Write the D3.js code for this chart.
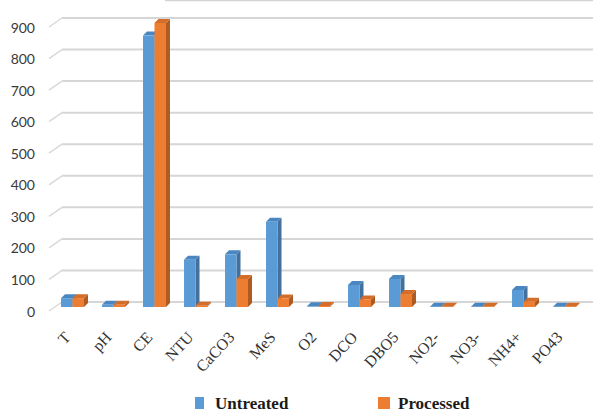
<!DOCTYPE html>
<html>
<head>
<meta charset="utf-8">
<script src="https://cdn.jsdelivr.net/npm/d3@7"></script>
<style>
  html, body { margin: 0; padding: 0; background: #fff; }
  svg { display: block; }
</style>
</head>
<body>
<svg id="chart" width="593" height="412"></svg>
<script>
// Water quality parameters, before and after treatment
const categories = ["T", "pH", "CE", "NTU", "CaCO3", "MeS", "O2", "DCO", "DBO5", "NO2-", "NO3-", "NH4+", "PO43"];
const seriesNames = ["Untreated", "Processed"];
const untreated = [28, 7, 860, 150, 167, 270, 2, 70, 89, 1, 1, 54, 1];
const processed = [28, 7, 900, 4, 89, 27, 3, 24, 41, 1, 1, 17, 1];
const yTicks = [0, 100, 200, 300, 400, 500, 600, 700, 800, 900];

const W = 593, H = 412;
const depth = 4;          // 3D extrusion of each column (px)
const wallShift = 5;      // back wall offset relative to column front base
const svg = d3.select("#chart");

svg.append("rect").attr("width", W).attr("height", H).attr("fill", "#fff");

// outer frame edge along the top
svg.append("line")
  .attr("x1", 165).attr("x2", W).attr("y1", 0.5).attr("y2", 0.5)
  .attr("stroke", "#d4d4d4").attr("stroke-width", 1.5);

const x = d3.scaleBand().domain(categories).range([52, 585])
  .paddingInner(0.44).paddingOuter(0.22);
const xs = d3.scaleBand().domain(seriesNames).range([0, x.bandwidth()]);
const y = d3.scaleLinear().domain([0, 900]).range([307, 23]);

const colors = {
  Untreated: { front: "#5B9BD5", side: "#41719C", top: "#4A86BF" },
  Processed: { front: "#ED7D31", side: "#AE5A21", top: "#D46D27" }
};

// gridlines on the back wall with the slanted floor edge at the left
const grid = svg.append("g");
yTicks.forEach(v => {
  const yb = y(v) - wallShift;
  grid.append("line")
    .attr("x1", 62).attr("x2", W).attr("y1", yb).attr("y2", yb)
    .attr("stroke", "#D6D6D6").attr("stroke-width", 2);
  grid.append("line")
    .attr("x1", 49).attr("y1", yb + 9).attr("x2", 62).attr("y2", yb)
    .attr("stroke", "#D9D9D9").attr("stroke-width", 1.5);
});

// y axis labels
svg.append("g").selectAll("text").data(yTicks).join("text")
  .attr("x", 35).attr("y", d => y(d) + 4)
  .attr("text-anchor", "end").attr("dominant-baseline", "central")
  .attr("font-family", "Lato, 'Open Sans', sans-serif")
  .attr("font-size", 14).attr("fill", "#3a3a3a")
  .text(d => d);

// 3D columns
const rows = categories.map((c, i) => ({ cat: c, vals: [untreated[i], processed[i]] }));
const bars = svg.append("g");
rows.forEach(r => {
  seriesNames.forEach((s, k) => {
    const v = r.vals[k];
    const x0 = x(r.cat) + xs(s), w = xs.bandwidth();
    const yt = y(v), yb = y(0);
    const c = colors[s];
    const g = bars.append("g");
    g.append("polygon")
      .attr("points", [[x0 + w, yt], [x0 + w + depth, yt - depth], [x0 + w + depth, yb - depth], [x0 + w, yb]].join(" "))
      .attr("fill", c.side);
    g.append("polygon")
      .attr("points", [[x0, yt], [x0 + depth, yt - depth], [x0 + w + depth, yt - depth], [x0 + w, yt]].join(" "))
      .attr("fill", c.top);
    g.append("rect")
      .attr("x", x0).attr("y", yt).attr("width", w).attr("height", Math.max(0, yb - yt))
      .attr("fill", c.front);
  });
});

// category labels, rotated
svg.append("g").selectAll("text").data(categories).join("text")
  .attr("transform", d => `translate(${x(d) + x.bandwidth() / 2 - 1},338) rotate(-47)`)
  .attr("text-anchor", "end")
  .attr("font-family", "'Liberation Serif', 'Times New Roman', serif")
  .attr("font-size", 16).attr("fill", "#333")
  .text(d => d);

// legend
const legend = [
  { name: "Untreated", sx: 195, sw: 9, tx: 215 },
  { name: "Processed", sx: 378, sw: 12, tx: 398 }
];
legend.forEach(l => {
  svg.append("rect").attr("x", l.sx).attr("y", 397).attr("width", l.sw).attr("height", 12)
    .attr("fill", colors[l.name].front);
  svg.append("text").attr("x", l.tx).attr("y", 409)
    .attr("font-family", "'Liberation Serif', 'Times New Roman', serif")
    .attr("font-weight", "bold").attr("font-size", 17).attr("fill", "#1a1a1a")
    .text(l.name);
});
</script>
</body>
</html>
